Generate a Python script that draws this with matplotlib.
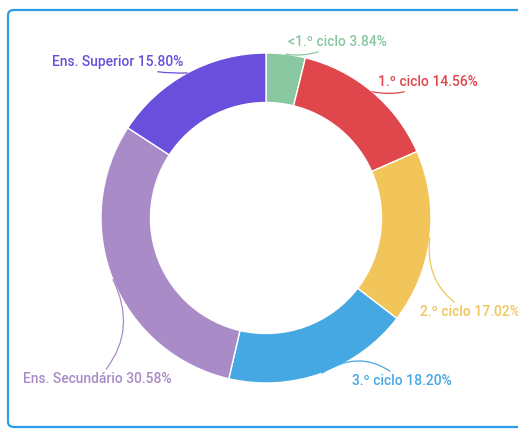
import matplotlib
matplotlib.use("Agg")
import matplotlib.pyplot as plt
from matplotlib.patches import FancyBboxPatch
import numpy as np

# data
labels = ["<1.º ciclo", "1.º ciclo", "2.º ciclo", "3.º ciclo", "Ens. Secundário", "Ens. Superior"]
values = [3.84, 14.56, 17.02, 18.20, 30.58, 15.80]
colors = ["#88c7a0", "#e0474c", "#f2c55a", "#46a8e2", "#a98bc8", "#6a4fdc"]

plt.rcParams['font.family'] = ['Roboto', 'DejaVu Sans']

W, H = 518, 429
cx, cy, R = 266, 218, 165
fig = plt.figure(figsize=(W / 100, H / 100), dpi=100)
ax = fig.add_axes([0, 0, 1, 1])

# blue card frame
frame = FancyBboxPatch((8 / W, 2 / H), 560 / W, (H - 12) / H,
                       boxstyle="round,pad=0,rounding_size=0.012",
                       transform=fig.transFigure, facecolor="none",
                       edgecolor="#2a9fe3", linewidth=1.6, zorder=5)
fig.patches.append(frame)
ax.set_facecolor("none")

wedges, _ = ax.pie(values, colors=colors, startangle=90, counterclock=False,
                   radius=1.0, wedgeprops=dict(width=0.30, edgecolor="white", linewidth=1))

ax.set_xlim(-cx / R, (W - cx) / R)
ax.set_ylim(-(H - cy) / R, cy / R)
ax.set_aspect("equal")
ax.axis("off")

# label positions in pixels (text anchor), alignment and curve of leader line
lab_px = [(288, 42), (378, 82), (420, 312), (352, 381), (172, 379), (183, 62)]
lab_ha = ["left", "left", "left", "left", "right", "right"]
rads = [-0.2, -0.2, -0.35, 0.4, 0.35, 0.1]

for w, lab, v, col, (px, py), ha, rad in zip(wedges, labels, values, colors, lab_px, lab_ha, rads):
    ang = np.deg2rad((w.theta1 + w.theta2) / 2)
    xy = (np.cos(ang) * 1.0, np.sin(ang) * 1.0)
    xt = ((px - cx) / R, (cy - py) / R)
    ax.annotate(f"{lab} {v:.2f}%", xy=xy, xytext=xt, ha=ha, va="center",
                fontsize=10, fontweight="medium", color=col,
                arrowprops=dict(arrowstyle="-", color=col, lw=0.9,
                                connectionstyle=f"arc3,rad={rad}",
                                shrinkA=0, shrinkB=0))

fig.savefig("out.png", dpi=100)
